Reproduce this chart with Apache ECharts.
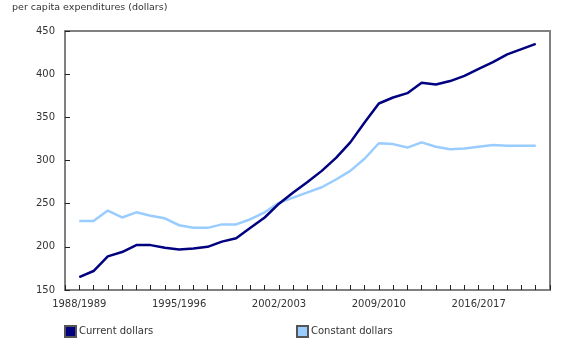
<!DOCTYPE html>
<html>
<head>
<meta charset="utf-8">
<script src="https://cdn.jsdelivr.net/npm/echarts@6/dist/echarts.min.js"></script>
<style>html,body{margin:0;padding:0;background:#fff}#c{width:580px;height:345px}</style>
</head>
<body>
<div id="c"></div>
<script>
var years = ['1988/1989','1989/1990','1990/1991','1991/1992','1992/1993','1993/1994','1994/1995','1995/1996','1996/1997','1997/1998','1998/1999','1999/2000','2000/2001','2001/2002','2002/2003','2003/2004','2004/2005','2005/2006','2006/2007','2007/2008','2008/2009','2009/2010','2010/2011','2011/2012','2012/2013','2013/2014','2014/2015','2015/2016','2016/2017','2017/2018','2018/2019','2019/2020','2020/2021'];
var currentDollars = [165,172,189,194,202,202,199,197,198,200,206,210,222,234,250,263,275,288,303,321,344,366,373,378,390,388,392,398,406,414,423,429,435];
var constantDollars = [230,230,242,234,240,236,233,225,222,222,226,226,232,240,251,257,263,269,278,288,302,320,319,315,321,316,313,314,316,318,317,317,317];
var yTicks = {min:150, max:450, interval:50};
var labelEvery = 7;

var font = 'DejaVu Sans, Verdana, sans-serif';
function pairs(arr){ return arr.map(function(v,i){ return [i, v]; }); }

var chart = echarts.init(document.getElementById('c'), null, {renderer:'canvas'});
chart.setOption({
  animation:false,
  title:{text:'per capita expenditures (dollars)', left:12, top:3, padding:0,
    textStyle:{fontFamily:font, fontSize:9.5, fontWeight:'normal', color:'#333'}},
  grid:{left:65, right:30, top:31, bottom:55, show:true, borderColor:'#808080', borderWidth:2, backgroundColor:'transparent'},
  legend:[
    {data:['Current dollars'], left:64, top:325, padding:0, icon:'rect', itemWidth:11, itemHeight:11, itemGap:4,
      textStyle:{fontFamily:font, fontSize:10, color:'#333', padding:[0,0,0,-2]}},
    {data:['Constant dollars'], left:296, top:325, padding:0, icon:'rect', itemWidth:11, itemHeight:11, itemGap:4,
      textStyle:{fontFamily:font, fontSize:10, color:'#333', padding:[0,0,0,-2]}}
  ],
  xAxis:{type:'value', min:-1, max:years.length, interval:1,
    axisLine:{show:true, onZero:false, lineStyle:{color:'#808080', width:2}},
    axisTick:{show:true, inside:true, length:5, lineStyle:{color:'#222', width:1}},
    splitLine:{show:false},
    axisLabel:{fontFamily:font, fontSize:10, color:'#333', margin:9, showMinLabel:true, showMaxLabel:true,
      formatter:function(v){ return (v>=0 && v<years.length && v%labelEvery===0) ? years[v] : ''; }}
  },
  yAxis:{type:'value', min:yTicks.min, max:yTicks.max, interval:yTicks.interval,
    axisLine:{show:true, onZero:false, lineStyle:{color:'#808080', width:2}},
    axisTick:{show:true, inside:true, length:5, lineStyle:{color:'#222', width:1}},
    splitLine:{show:false},
    axisLabel:{fontFamily:font, fontSize:10, color:'#333', margin:10}
  },
  series:[
    {name:'Current dollars', type:'line', data:pairs(currentDollars), symbol:'none', z:3,
      lineStyle:{color:'#000080', width:2.5}, itemStyle:{color:'#000080', borderColor:'#555', borderWidth:1}},
    {name:'Constant dollars', type:'line', data:pairs(constantDollars), symbol:'none', z:2,
      lineStyle:{color:'#99ccff', width:2.5}, itemStyle:{color:'#99ccff', borderColor:'#555', borderWidth:1}}
  ]
});
</script>
</body>
</html>
